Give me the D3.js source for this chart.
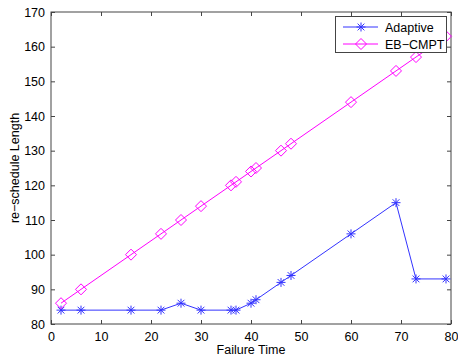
<!DOCTYPE html>
<html><head><meta charset="utf-8">
<script src="https://cdn.jsdelivr.net/npm/d3@7"></script>
<style>body{margin:0;background:#fff}svg{display:block}text{font-family:"Liberation Sans",Arial,sans-serif}</style>
</head><body><svg id="c" width="458" height="358"></svg>
<script>
const failureTime = [2, 6, 16, 22, 26, 30, 36, 37, 40, 41, 46, 48, 60, 69, 73, 79];
const adaptive = [84, 84, 84, 84, 86, 84, 84, 84, 86, 87, 92, 94, 106, 115, 93, 93];
const ebcmpt = [86, 90, 100, 106, 110, 114, 120, 121, 124, 125, 130, 132, 144, 153, 157, 163];
const xTicks = [0, 10, 20, 30, 40, 50, 60, 70, 80];
const yTicks = [80, 90, 100, 110, 120, 130, 140, 150, 160, 170];
const seriesNames = ["Adaptive", "EB\u2212CMPT"];

const svg = d3.select("#c");
const L = 51, R = 451, T = 12, B = 324;
const x = d3.scaleLinear().domain([0, 80]).range([L, R]);
const y = d3.scaleLinear().domain([80, 170]).range([B, T]);
const axisCol = "#444";
const fs = 12.5;

svg.append("rect").attr("x", L).attr("y", T).attr("width", R - L).attr("height", B - T)
  .attr("fill", "#fff").attr("stroke", axisCol).attr("stroke-width", 1);

const styleAxis = g => {
  g.select(".domain").remove();
  g.selectAll("line").attr("stroke", axisCol);
  g.selectAll("text").attr("font-size", fs).attr("fill", "#000")
   .attr("font-family", '"Liberation Sans",Arial,sans-serif');
};
svg.append("g").attr("transform", `translate(0,${B})`)
  .call(d3.axisBottom(x).tickValues(xTicks).tickSize(-4).tickPadding(8)).call(styleAxis);
svg.append("g").attr("transform", `translate(0,${T})`)
  .call(d3.axisTop(x).tickValues(xTicks).tickSize(-4).tickFormat("")).call(styleAxis);
svg.append("g").attr("transform", `translate(${L},0)`)
  .call(d3.axisLeft(y).tickValues(yTicks).tickSize(-4).tickPadding(6)).call(styleAxis);
svg.append("g").attr("transform", `translate(${R},0)`)
  .call(d3.axisRight(y).tickValues(yTicks).tickSize(-4).tickFormat("")).call(styleAxis);

const line = d3.line().x(d => x(d[0])).y(d => y(d[1]));
const adData = failureTime.map((t, i) => [t, adaptive[i]]);
const ebData = failureTime.map((t, i) => [t, ebcmpt[i]]);

const blue = "#3333ff", mag = "#ff00ff";
function star(g, cx, cy, col) {
  const r = 4.5;
  const s = g.append("g").attr("transform", `translate(${cx},${cy})`).attr("stroke", col).attr("stroke-width", 1);
  s.append("line").attr("x1", -r).attr("x2", r).attr("y1", 0).attr("y2", 0);
  s.append("line").attr("x1", 0).attr("x2", 0).attr("y1", -r).attr("y2", r);
  const d = r * 0.75;
  s.append("line").attr("x1", -d).attr("x2", d).attr("y1", -d).attr("y2", d);
  s.append("line").attr("x1", -d).attr("x2", d).attr("y1", d).attr("y2", -d);
}
function diamond(g, cx, cy, col) {
  const r = 5.5;
  g.append("path").attr("d", `M${cx},${cy - r}L${cx + r},${cy}L${cx},${cy + r}L${cx - r},${cy}Z`)
    .attr("fill", "none").attr("stroke", col).attr("stroke-width", 1);
}

const gA = svg.append("g");
gA.append("path").datum(adData).attr("d", line).attr("fill", "none").attr("stroke", blue).attr("stroke-width", 1);
adData.forEach(d => star(gA, x(d[0]), y(d[1]), blue));
const gE = svg.append("g");
gE.append("path").datum(ebData).attr("d", line).attr("fill", "none").attr("stroke", mag).attr("stroke-width", 1);
ebData.forEach(d => diamond(gE, x(d[0]), y(d[1]), mag));

const lg = svg.append("g");
lg.append("rect").attr("x", 335.5).attr("y", 16.5).attr("width", 111).attr("height", 36)
  .attr("fill", "#fff").attr("stroke", axisCol);
[[blue, star], [mag, diamond]].forEach(([col, fn], i) => {
  const yy = 27 + i * 17;
  lg.append("line").attr("x1", 343).attr("x2", 378).attr("y1", yy).attr("y2", yy).attr("stroke", col);
  fn(lg, 361, yy, col);
  lg.append("text").attr("x", 385).attr("y", yy + 4.5).attr("font-size", fs).text(seriesNames[i]);
});

svg.append("text").attr("x", (L + R) / 2).attr("y", 354).attr("text-anchor", "middle")
  .attr("font-size", fs).text("Failure Time");
svg.append("text").attr("transform", `translate(19,${(T + B) / 2}) rotate(-90)`)
  .attr("text-anchor", "middle").attr("font-size", fs).text("re\u2212schedule Length");
</script></body></html>
